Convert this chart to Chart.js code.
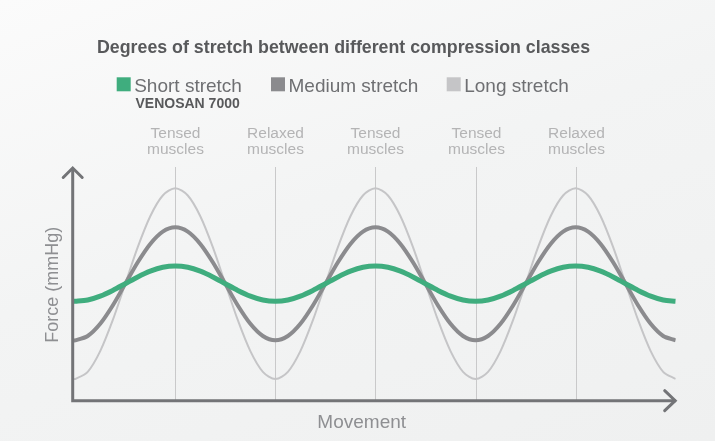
<!DOCTYPE html>
<html>
<head>
<meta charset="utf-8">
<script src="https://cdn.jsdelivr.net/npm/chart.js@4"></script>
<style>
html, body { margin: 0; padding: 0; }
body {
    width: 715px; height: 441px; overflow: hidden;
    background: linear-gradient(160deg, #fbfbfb 0%, #f3f4f4 45%, #eff0f0 100%);
}
canvas { position: absolute; left: 0; top: 0; }
</style>
</head>
<body>
<canvas id="stretchChart" width="715" height="441"></canvas>
<script>
// Movement positions (x) and force readings (y) for each compression class
const movement = [-0.1, 0, 0.5, 1, 1.5, 2, 2.5, 3, 3.5, 4, 4.5, 5, 5.5, 6, 6.5, 7, 7.5,
    8, 8.5, 9, 9.5, 10, 10.5, 11, 11.5, 12, 12.5, 13, 13.5, 14, 14.5, 15, 15.5,
    16, 16.5, 17, 17.5, 18, 18.5, 19, 19.5, 20, 20.5, 21, 21.5, 22, 22.5, 23, 23.5, 24];
const shortStretch = [99.4, 99.4, 100.7, 104.6, 110.3, 117, 123.8, 129.5, 133.4, 134.7, 133.4, 129.5, 123.8, 117, 110.3, 104.6, 100.7,
    99.4, 100.7, 104.6, 110.3, 117, 123.8, 129.5, 133.4, 134.7, 133.4, 129.5, 123.8, 117, 110.3, 104.6, 100.7,
    99.4, 100.7, 104.6, 110.3, 117, 123.8, 129.5, 133.4, 134.7, 133.4, 129.5, 123.8, 117, 110.3, 104.6, 100.7, 99.4];
const mediumStretch = [60.4, 60.4, 64.7, 76.9, 95.2, 116.9, 138.5, 156.8, 169.1, 173.4, 169.1, 156.8, 138.5, 116.9, 95.2, 76.9, 64.7,
    60.4, 64.7, 76.9, 95.2, 116.9, 138.5, 156.8, 169.1, 173.4, 169.1, 156.8, 138.5, 116.9, 95.2, 76.9, 64.7,
    60.4, 64.7, 76.9, 95.2, 116.9, 138.5, 156.8, 169.1, 173.4, 169.1, 156.8, 138.5, 116.9, 95.2, 76.9, 64.7, 60.4];
const longStretch = [21.7, 21.7, 28.9, 49.6, 80.5, 117, 153.6, 184.5, 205.2, 212.4, 205.2, 184.5, 153.6, 117, 80.5, 49.6, 28.9,
    21.7, 28.9, 49.6, 80.5, 117, 153.6, 184.5, 205.2, 212.4, 205.2, 184.5, 153.6, 117, 80.5, 49.6, 28.9,
    21.7, 28.9, 49.6, 80.5, 117, 153.6, 184.5, 205.2, 212.4, 205.2, 184.5, 153.6, 117, 80.5, 49.6, 28.9, 21.7];

// muscle phases marked above the chart
const phaseAt = [4, 8, 12, 16, 20];
const phaseLabels = [['Tensed', 'muscles'], ['Relaxed', 'muscles'], ['Tensed', 'muscles'], ['Tensed', 'muscles'], ['Relaxed', 'muscles']];

const FONT = '"Liberation Sans", Arial, Helvetica, sans-serif';

let points = values => values.map((v, i) => ({ x: movement[i], y: v }));

const decor = {
    id: 'decor',
    beforeDatasetsDraw(chart) {
        const { ctx, chartArea: a, scales: { x } } = chart;
        ctx.save();
        ctx.lineWidth = 1;
        ctx.strokeStyle = '#c9c9ca';
        ctx.fillStyle = '#b4b4b5';
        ctx.font = '15.5px ' + FONT;
        ctx.textAlign = 'center';
        phaseAt.forEach((v, i) => {
            const px = Math.round(x.getPixelForValue(v)) + 0.5;
            ctx.beginPath();
            ctx.moveTo(px, a.top);
            ctx.lineTo(px, a.bottom);
            ctx.stroke();
            ctx.fillText(phaseLabels[i][0], px, 138.3);
            ctx.fillText(phaseLabels[i][1], px, 154);
        });
        ctx.restore();
    },
    afterDatasetsDraw(chart) {
        const { ctx, chartArea: a } = chart;
        ctx.save();
        // axes with arrow heads
        ctx.strokeStyle = '#737477';
        ctx.lineWidth = 3;
        ctx.lineCap = 'butt';
        ctx.lineJoin = 'miter';
        ctx.beginPath();
        ctx.moveTo(a.left, a.top + 1);
        ctx.lineTo(a.left, a.bottom);
        ctx.lineTo(a.right, a.bottom);
        ctx.stroke();
        ctx.lineCap = 'round';
        ctx.beginPath();
        ctx.moveTo(a.left - 9.5, a.top + 10.5);
        ctx.lineTo(a.left, a.top + 1);
        ctx.lineTo(a.left + 9.5, a.top + 10.5);
        ctx.moveTo(a.right - 11, a.bottom - 10);
        ctx.lineTo(a.right - 0.5, a.bottom);
        ctx.lineTo(a.right - 11, a.bottom + 10);
        ctx.stroke();

        // axis titles
        ctx.fillStyle = '#8e8f92';
        ctx.font = '19px ' + FONT;
        ctx.textAlign = 'center';
        ctx.fillText('Movement', (a.left + a.right) / 2 - 12.5, 428.3);
        ctx.font = '18px ' + FONT;
        ctx.translate(58, 284.7);
        ctx.rotate(-Math.PI / 2);
        ctx.fillText('Force (mmHg)', 0, 0);
        ctx.restore();
    },
    afterDraw(chart) {
        const { ctx } = chart;
        ctx.save();
        ctx.fillStyle = '#58595b';
        ctx.font = 'bold 17.8px ' + FONT;
        ctx.fillText('Degrees of stretch between different compression classes', 97, 53.3);

        // legend
        const legendX = [116.7, 271, 446.7];
        chart.data.datasets.forEach((ds, i) => {
            ctx.fillStyle = ds.borderColor;
            ctx.fillRect(legendX[i], 77.3, 14, 14);
            ctx.fillStyle = '#6e6f72';
            ctx.font = '19px ' + FONT;
            ctx.fillText(ds.label, legendX[i] + 17.5, 91.7);
        });
        ctx.fillStyle = '#58595b';
        ctx.font = 'bold 14px ' + FONT;
        ctx.fillText('VENOSAN 7000', 135.5, 108.3);
        ctx.restore();
    }
};

new Chart(document.getElementById('stretchChart'), {
    type: 'line',
    data: {
        datasets: [
            { label: 'Short stretch', data: points(shortStretch), borderColor: '#3fad7e', borderWidth: 5 },
            { label: 'Medium stretch', data: points(mediumStretch), borderColor: '#8b8b8e', borderWidth: 4 },
            { label: 'Long stretch', data: points(longStretch), borderColor: '#c5c5c7', borderWidth: 2 }
        ]
    },
    options: {
        responsive: false,
        devicePixelRatio: 1,
        animation: false,
        elements: { point: { radius: 0 }, line: { fill: false, tension: 0.3 } },
        layout: { padding: { left: 72.7, right: 39.3, top: 167, bottom: 40.3 } },
        plugins: { legend: { display: false }, tooltip: { enabled: false } },
        scales: {
            x: { type: 'linear', min: -0.1, max: 24, display: false },
            y: { type: 'linear', min: 0, max: 233.7, display: false }
        }
    },
    plugins: [decor]
});
</script>
</body>
</html>
